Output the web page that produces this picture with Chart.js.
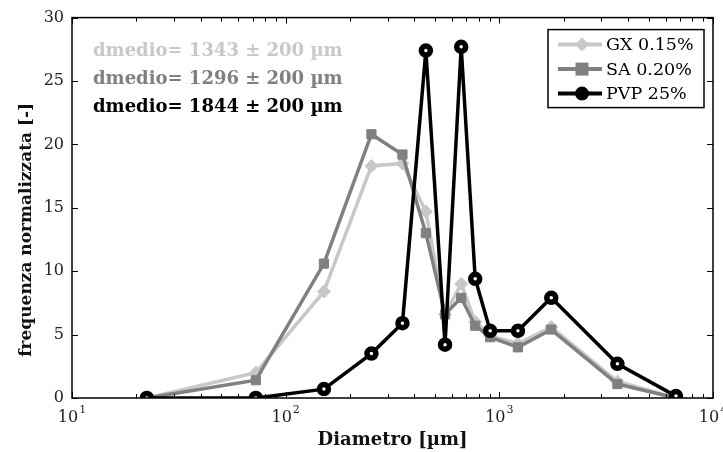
<!DOCTYPE html>
<html>
<head>
<meta charset="utf-8">
<script src="https://cdn.jsdelivr.net/npm/chart.js@4/dist/chart.umd.min.js"></script>
<style>
html,body{margin:0;padding:0;background:#fff;}
#wrap{width:723px;height:452px;}
</style>
</head>
<body>
<div id="wrap"><canvas id="c" width="723" height="452"></canvas></div>
<script>
const diametro = [22.4, 72.5, 151, 252, 352, 453, 557, 663, 771, 906, 1222, 1750, 3570, 6710];
const gx  = [0, 2.0, 8.4, 18.3, 18.5, 14.7, 6.6, 9.0, 6.0, 4.9, 4.3, 5.6, 1.3, 0];
const sa  = [0, 1.4, 10.6, 20.8, 19.2, 13.0, 6.6, 7.9, 5.7, 4.8, 4.0, 5.4, 1.1, 0];
const pvp = [0, 0, 0.7, 3.5, 5.9, 27.4, 4.2, 27.7, 9.4, 5.3, 5.3, 7.9, 2.7, 0.15];
const seriesNames = ['GX 0.15%', 'SA 0.20%', 'PVP 25%'];
const dmedioLabels = ['dmedio= 1343 \u00b1 200 \u00b5m', 'dmedio= 1296 \u00b1 200 \u00b5m', 'dmedio= 1844 \u00b1 200 \u00b5m'];
const xTickValues = [10, 100, 1000, 10000];
const xTickExponents = ['1', '2', '3', '4'];
const yTickValues = [0, 5, 10, 15, 20, 25, 30];
const xTitle = 'Diametro [\u00b5m]';
const yTitle = 'frequenza normalizzata [-]';

const colors = ['#c8c8c8', '#808080', '#000000'];
const SERIF = '"DejaVu Serif", "Liberation Serif", serif';

function pts(arr){ return diametro.map((d,i)=>({x:d, y:arr[i]})); }

const frame = {
  id:'frame',
  afterDraw(chart){
    const {ctx, chartArea:a, scales:{x, y}} = chart;
    ctx.save();
    ctx.strokeStyle = '#000';
    ctx.lineWidth = 1.5;
    ctx.strokeRect(a.left, a.top, a.right-a.left, a.bottom-a.top);
    ctx.lineWidth = 1;
    for (let e=1; e<4; e++){
      for (let m=1; m<=10; m++){
        const v = m*Math.pow(10,e);
        if (m===10 && e<3) continue;
        const px = Math.round(x.getPixelForValue(v))+0.5;
        const len = (m===1||m===10) ? 6 : 4;
        ctx.beginPath();
        ctx.moveTo(px, a.bottom); ctx.lineTo(px, a.bottom-len);
        ctx.moveTo(px, a.top); ctx.lineTo(px, a.top+len);
        ctx.stroke();
      }
    }
    yTickValues.forEach(v=>{
      const py = Math.round(y.getPixelForValue(v))+0.5;
      ctx.beginPath();
      ctx.moveTo(a.left, py); ctx.lineTo(a.left+6, py);
      ctx.moveTo(a.right, py); ctx.lineTo(a.right-6, py);
      ctx.stroke();
    });
    // x tick labels with superscript
    ctx.fillStyle = '#222';
    ctx.textBaseline = 'alphabetic';
    ctx.textAlign = 'left';
    xTickValues.forEach((v,i)=>{
      const px = x.getPixelForValue(v);
      ctx.font = '16px ' + SERIF;
      const w1 = ctx.measureText('10').width;
      ctx.font = '11px ' + SERIF;
      const w2 = ctx.measureText(xTickExponents[i]).width;
      const sx = px - (w1+w2+1)/2;
      ctx.font = '16px ' + SERIF;
      ctx.fillText('10', sx, a.bottom+24);
      ctx.font = '11px ' + SERIF;
      ctx.fillText(xTickExponents[i], sx+w1+1, a.bottom+15);
    });
    // axis titles
    ctx.fillStyle = '#111';
    ctx.font = 'bold 18px ' + SERIF;
    ctx.textAlign = 'center';
    ctx.fillText(xTitle, (a.left+a.right)/2, a.bottom+47);
    ctx.save();
    ctx.translate(31, (a.top+a.bottom)/2+22);
    ctx.rotate(-Math.PI/2);
    ctx.font = 'bold 17px ' + SERIF;
    ctx.fillText(yTitle, 0, 0);
    ctx.restore();
    // annotations
    ctx.font = 'bold 18px ' + SERIF;
    ctx.textAlign = 'left';
    dmedioLabels.forEach((t,i)=>{
      ctx.fillStyle = colors[i];
      ctx.fillText(t, a.left+21, a.top+38+i*28);
    });
    // legend
    const lx = a.right-165, ly = a.top+12, lw = 156, lh = 78;
    ctx.fillStyle = '#fff';
    ctx.fillRect(lx, ly, lw, lh);
    ctx.strokeStyle = '#000';
    ctx.lineWidth = 1.5;
    ctx.strokeRect(lx, ly, lw, lh);
    ctx.font = '17.5px ' + SERIF;
    ctx.textBaseline = 'middle';
    chart.data.datasets.forEach((ds,i)=>{
      const cy = ly + 15 + i*24.5;
      ctx.strokeStyle = ds.borderColor;
      ctx.lineWidth = 4;
      ctx.beginPath(); ctx.moveTo(lx+10, cy); ctx.lineTo(lx+54, cy); ctx.stroke();
      const mx = lx+34;
      ctx.fillStyle = ds.borderColor;
      if (i===0){
        ctx.beginPath(); ctx.moveTo(mx, cy-7); ctx.lineTo(mx+7, cy); ctx.lineTo(mx, cy+7); ctx.lineTo(mx-7, cy); ctx.closePath(); ctx.fill();
      } else if (i===1){
        ctx.fillRect(mx-6.5, cy-6.5, 13, 13);
      } else {
        ctx.beginPath(); ctx.arc(mx, cy, 7, 0, Math.PI*2); ctx.fill();
      }
      ctx.fillStyle = '#000';
      ctx.fillText(seriesNames[i], lx+58, cy+1);
    });
    ctx.restore();
  }
};

new Chart(document.getElementById('c'), {
  type:'line',
  data:{
    datasets:[
      {label:seriesNames[0], data:pts(gx), borderColor:colors[0], backgroundColor:colors[0], borderWidth:3.5,
       pointStyle:'rectRot', pointRadius:6.5, pointBackgroundColor:colors[0], pointBorderColor:colors[0], pointBorderWidth:1, order:3},
      {label:seriesNames[1], data:pts(sa), borderColor:colors[1], backgroundColor:colors[1], borderWidth:3.5,
       pointStyle:'rect', pointRadius:6.5, pointBackgroundColor:colors[1], pointBorderColor:colors[1], pointBorderWidth:1, order:2},
      {label:seriesNames[2], data:pts(pvp), borderColor:colors[2], backgroundColor:'#ffffff', borderWidth:3.5,
       pointStyle:'circle', pointRadius:4.5, pointBackgroundColor:'#ffffff', pointBorderColor:colors[2], pointBorderWidth:5.5, order:1}
    ]
  },
  options:{
    responsive:false,
    animation:false,
    devicePixelRatio:1,
    layout:{padding:{left:0, right:10, top:15, bottom:0}},
    plugins:{legend:{display:false}, tooltip:{enabled:false}},
    scales:{
      x:{
        type:'logarithmic', min:10, max:10000,
        grid:{display:false, drawTicks:false},
        border:{display:false},
        afterBuildTicks(s){ s.ticks = xTickValues.map(v=>({value:v})); },
        afterFit(s){ s.height = 54; },
        ticks:{display:false}
      },
      y:{
        min:0, max:30,
        grid:{display:false, drawTicks:false},
        border:{display:false},
        afterBuildTicks(s){ s.ticks = yTickValues.map(v=>({value:v})); },
        afterFit(s){ s.width = 72; },
        ticks:{padding:8, color:'#222', font:{family:SERIF, size:16}}
      }
    }
  },
  plugins:[frame]
});
</script>
</body>
</html>
